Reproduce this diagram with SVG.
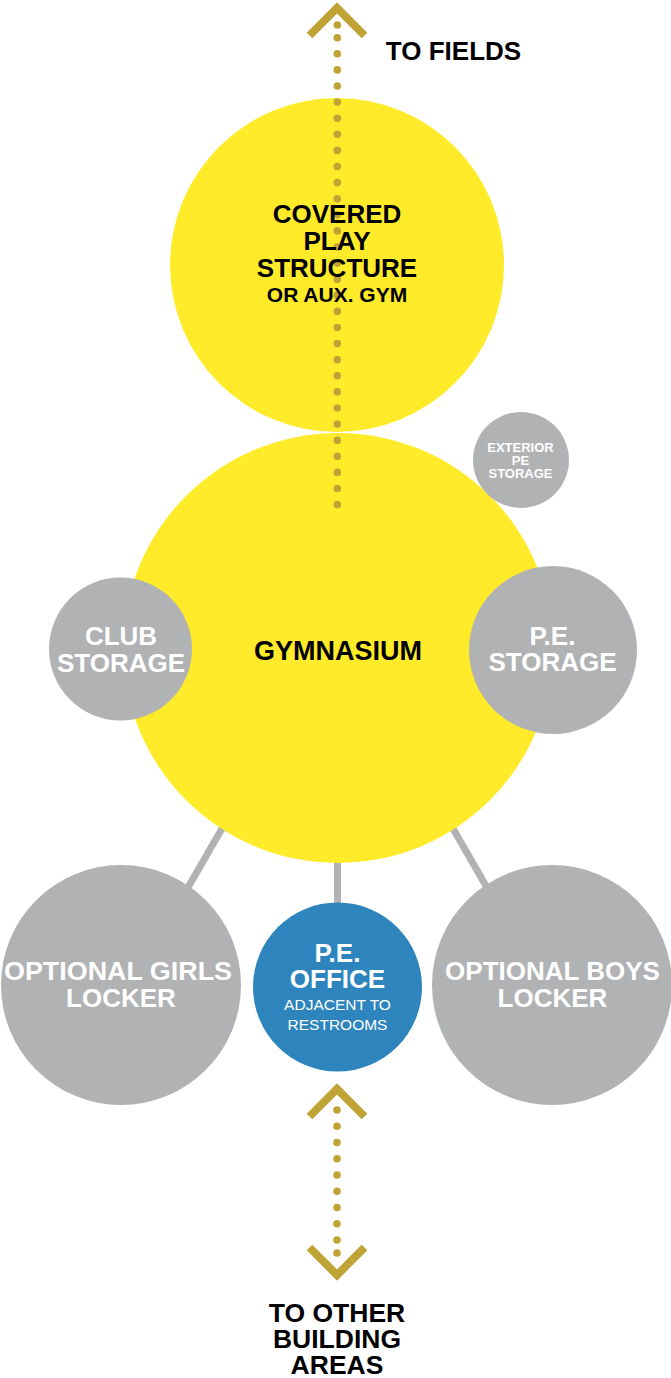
<svg xmlns="http://www.w3.org/2000/svg" width="671" height="1378" viewBox="0 0 671 1378">
<style>
.y{fill:#FFEB29}
.g{fill:#B1B2B4}
.b{fill:#2E85BD}
.t{font-family:"Liberation Sans",Arial,Helvetica,sans-serif;font-weight:bold;text-anchor:middle}
.dk{fill:#000}
.wh{fill:#fff}
.reg{font-weight:normal}
.conn{stroke:#B1B2B4;stroke-width:7;fill:none}
.chev{stroke:#BFA334;stroke-width:8;fill:none;stroke-linejoin:miter;stroke-linecap:butt}
.dots{stroke:#BFA334;stroke-width:7.6;stroke-linecap:round;fill:none}
</style>
<rect width="671" height="1378" fill="#fff"/>
<g id="connectors">
<line class="conn" x1="229.8" y1="815" x2="180.8" y2="900"/>
<line class="conn" x1="445.2" y1="815" x2="494.1" y2="900"/>
<line class="conn" x1="337.5" y1="850" x2="337.5" y2="915"/>
</g>
<g id="covered-play">
<circle class="y" cx="337" cy="265" r="167"/>
</g>
<g id="gymnasium">
<circle class="y" cx="338" cy="648" r="215"/>
</g>
<g id="arrow-fields">
<polyline class="chev" points="309.5,35.5 337,8 364.5,35.5"/>
<circle cx="337.3" cy="25" r="3.8" fill="#BFA334"/>
<line class="dots" x1="337.3" y1="37.7" x2="337.3" y2="505" stroke-dasharray="0 16.1"/>
<text class="t dk" x="453.5" y="60" font-size="26">TO FIELDS</text>
</g>
<g id="covered-play-label">
<text class="t dk" x="337" y="223" font-size="26">COVERED</text>
<text class="t dk" x="337" y="250" font-size="26">PLAY</text>
<text class="t dk" x="337" y="277" font-size="26">STRUCTURE</text>
<text class="t dk" x="337" y="302" font-size="21">OR AUX. GYM</text>
</g>
<g id="gymnasium-label">
<text class="t dk" x="338" y="660" font-size="27">GYMNASIUM</text>
</g>
<g id="exterior-pe-storage">
<circle class="g" cx="521" cy="460" r="48"/>
<text class="t wh" x="520.5" y="452" font-size="13">EXTERIOR</text>
<text class="t wh" x="520.5" y="465" font-size="13">PE</text>
<text class="t wh" x="520.5" y="478" font-size="13">STORAGE</text>
</g>
<g id="club-storage">
<circle class="g" cx="120.5" cy="649" r="71.5"/>
<text class="t wh" x="121" y="645" font-size="26">CLUB</text>
<text class="t wh" x="121" y="671.5" font-size="26">STORAGE</text>
</g>
<g id="pe-storage">
<circle class="g" cx="553" cy="650" r="84"/>
<text class="t wh" x="552.5" y="645" font-size="26">P.E.</text>
<text class="t wh" x="552.5" y="671" font-size="26">STORAGE</text>
</g>
<g id="girls-locker">
<circle class="g" cx="121" cy="985" r="120"/>
<text class="t wh" x="118" y="980" font-size="26" textLength="228" lengthAdjust="spacingAndGlyphs">OPTIONAL GIRLS</text>
<text class="t wh" x="121" y="1007" font-size="26">LOCKER</text>
</g>
<g id="boys-locker">
<circle class="g" cx="552" cy="985" r="120"/>
<text class="t wh" x="552.5" y="980" font-size="26">OPTIONAL BOYS</text>
<text class="t wh" x="552.5" y="1007" font-size="26">LOCKER</text>
</g>
<g id="pe-office">
<circle class="b" cx="337.5" cy="987" r="84.5"/>
<text class="t wh" x="337.5" y="962" font-size="26">P.E.</text>
<text class="t wh" x="337.5" y="988" font-size="26">OFFICE</text>
<text class="t wh reg" x="337.5" y="1010" font-size="15.5">ADJACENT TO</text>
<text class="t wh reg" x="337.5" y="1030" font-size="15.5">RESTROOMS</text>
</g>
<g id="arrow-other-areas">
<polyline class="chev" points="309.5,1116.5 337,1089 364.5,1116.5"/>
<line class="dots" x1="337" y1="1110" x2="337" y2="1240.1" stroke-dasharray="0 16.25"/>
<circle cx="337" cy="1253" r="3.8" fill="#BFA334"/>
<polyline class="chev" points="309.5,1247.5 337,1275 364.5,1247.5"/>
<text class="t dk" x="337" y="1322" font-size="26.5">TO OTHER</text>
<text class="t dk" x="337" y="1348" font-size="26.5">BUILDING</text>
<text class="t dk" x="337" y="1374" font-size="26.5">AREAS</text>
</g>
</svg>
